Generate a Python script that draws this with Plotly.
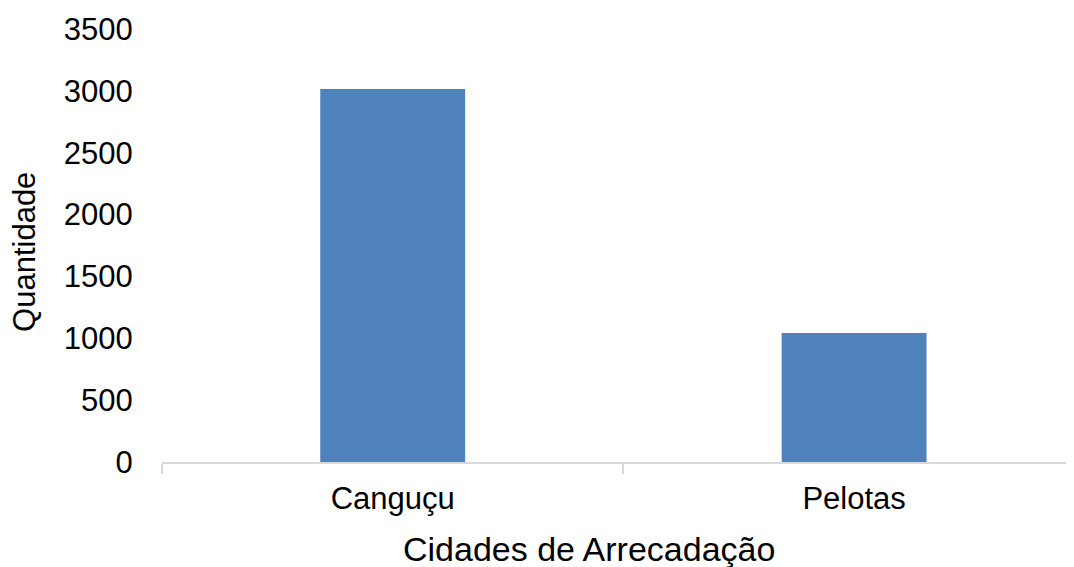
import plotly.graph_objects as go

categories = ["Canguçu", "Pelotas"]
values = [3015, 1043]
y_ticks = [0, 500, 1000, 1500, 2000, 2500, 3000, 3500]
x_title = "Cidades de Arrecadação"
y_title = "Quantidade"

FONT = "Liberation Sans, Arial, sans-serif"

fig = go.Figure(go.Bar(
    x=categories, y=values,
    marker=dict(color="#4F81BD", line=dict(width=0)),
))

fig.update_layout(
    width=1066, height=559,
    paper_bgcolor="white", plot_bgcolor="white",
    margin=dict(l=154, r=0, t=21, b=104.5, autoexpand=False),
    bargap=0.686,
    showlegend=False,
    font=dict(family=FONT, size=31, color="#000000"),
    xaxis=dict(
        type="category",
        range=[-0.5, 1.4766],
        tickson="boundaries",
        ticks="outside", ticklen=10, tickcolor="#D9D9D9", tickwidth=1.5,
        showline=True, linecolor="#D9D9D9", linewidth=1.5,
        showgrid=False, zeroline=False,
        tickfont=dict(family=FONT, size=31),
        ticklabelstandoff=8,
        automargin=False,
    ),
    yaxis=dict(
        range=[0, 3500],
        tickmode="array", tickvals=y_ticks, ticktext=[str(v) for v in y_ticks],
        showline=False, showgrid=False, zeroline=False,
        ticks="outside", ticklen=22, tickcolor="rgba(0,0,0,0)",
        tickfont=dict(family=FONT, size=31),
        automargin=False,
    ),
    annotations=[
        dict(text=x_title, xref="paper", yref="paper", x=0.468, y=-0.2010,
             xanchor="center", yanchor="middle", showarrow=False,
             font=dict(family=FONT, size=34, color="#000000")),
        dict(text=y_title, xref="paper", yref="paper", x=-0.150, y=0.4856,
             xanchor="center", yanchor="middle", textangle=-90, showarrow=False,
             font=dict(family=FONT, size=31, color="#000000")),
    ],
)

fig.write_html("out.html")
